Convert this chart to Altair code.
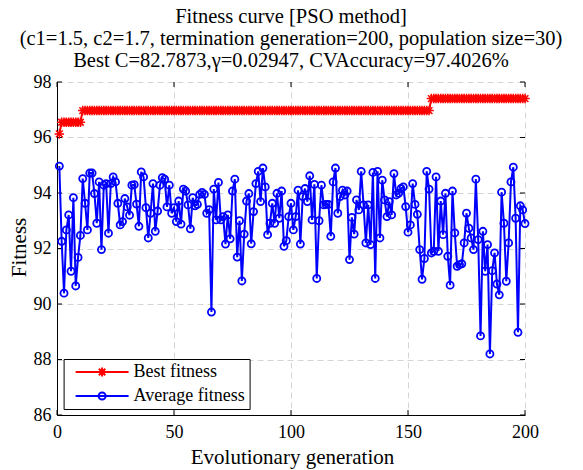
import altair as alt
import pandas as pd

# ---------------- data ----------------
generations = list(range(1, 201))

avg_fitness = [
    94.97, 92.26, 90.39, 92.67, 93.21, 91.18, 93.83, 90.65, 91.68, 92.47,
    94.52, 93.63, 92.67, 94.72, 94.72, 93.98, 92.91, 94.40, 91.96, 94.28,
    94.34, 92.55, 94.34, 94.58, 94.40, 93.63, 92.85, 92.97, 93.80, 93.50,
    93.20, 94.28, 94.30, 93.60, 92.80, 94.76, 94.58, 93.47, 92.38, 93.27,
    94.34, 92.62, 93.35, 94.28, 94.55, 94.50, 93.50, 94.28, 93.27, 93.47,
    92.97, 93.71, 92.88, 94.14, 94.07, 93.57, 92.71, 93.83, 93.54, 93.59,
    93.95, 94.02, 93.95, 93.27, 93.40, 89.71, 94.14, 93.03, 94.38, 93.03,
    93.15, 92.16, 93.21, 92.35, 94.07, 94.50, 91.69, 93.00, 90.83, 92.52,
    93.71, 93.98, 92.17, 93.33, 94.34, 94.78, 93.69, 94.90, 94.22, 92.50,
    92.91, 93.63, 92.91, 93.99, 93.09, 94.07, 92.08, 92.28, 93.15, 93.63,
    92.67, 93.15, 94.10, 92.16, 93.87, 94.16, 93.69, 94.62, 93.03, 94.31,
    90.92, 93.00, 94.28, 93.57, 93.59, 93.59, 92.44, 94.40, 94.90, 93.27,
    93.87, 94.10, 93.93, 94.07, 91.60, 93.12, 92.52, 93.75, 93.39, 94.78,
    93.57, 92.20, 93.57, 92.14, 94.74, 90.92, 94.78, 92.38, 94.46, 93.75,
    93.15, 93.69, 93.21, 94.70, 93.93, 93.99, 94.16, 94.22, 93.51, 92.59,
    92.85, 94.34, 93.59, 93.23, 91.96, 90.89, 91.64, 94.78, 94.14, 91.84,
    91.90, 94.58, 91.90, 93.71, 92.50, 93.99, 91.72, 90.68, 94.07, 92.56,
    91.36, 91.42, 91.45, 92.20, 93.27, 92.73, 92.38, 91.96, 94.50, 92.32,
    88.85, 92.62, 91.18, 92.14, 88.20, 91.20, 91.84, 90.72, 90.33, 94.03,
    92.91, 90.82, 92.20, 94.40, 94.93, 93.09, 88.98, 93.54, 93.39, 92.90,
]

# best fitness is a step curve: read levels and how many generations each lasts
best_levels = [96.13, 96.55, 96.97, 97.4026]
best_runs = [1, 9, 149, 41]

x_ticks = [0, 50, 100, 150, 200]
y_ticks = [86, 88, 90, 92, 94, 96, 98]

series_names = ["Best fitness", "Average fitness"]
series_colors = ["#ff0000", "#0000ff"]

title_lines = [
    "Fitness curve [PSO method]",
    "(c1=1.5, c2=1.7, termination generation=200, population size=30)",
    "Best C=82.7873,\u03b3=0.02947, CVAccuracy=97.4026%",
]

# ---------------- build tables ----------------
best_fitness = []
for lv, n in zip(best_levels, best_runs):
    best_fitness += [lv] * n

df_best = pd.DataFrame({"gen": generations, "fit": best_fitness})
df_avg = pd.DataFrame({"gen": generations, "fit": avg_fitness})
df_xt = pd.DataFrame({"t": x_ticks})
df_yt = pd.DataFrame({"t": y_ticks})
df_leg = pd.DataFrame({"series": series_names})

W, H = 468, 333
FONT = "Liberation Serif"

xs = alt.Scale(domain=[0, 200], nice=False, zero=False)
ys = alt.Scale(domain=[86, 98], nice=False, zero=False)

grid_kw = dict(grid=True, gridColor="#d4d4d4", gridDash=[6, 4], gridWidth=1,
               domain=True, domainColor="black", domainWidth=1, ticks=False,
               labelFont=FONT, labelFontSize=18, labelColor="black",
               labelFlush=False, labelOverlap=False,
               titleFont=FONT, titleFontSize=21, titleFontWeight="normal",
               titleColor="black", titleAlign="center", titleBaseline="middle")

x_axis = alt.Axis(values=x_ticks, title="Evolutionary generation",
                  labelPadding=8, titleX=235, titleY=42, **grid_kw)
y_axis = alt.Axis(values=y_ticks, title="Fitness", labelPadding=6,
                  titleX=-38, titleY=165, titleAngle=270, **grid_kw)

X = alt.X("gen:Q", scale=xs, axis=x_axis)
Y = alt.Y("fit:Q", scale=ys, axis=y_axis)

ASTERISK = "M0,-1L0,1M-1,0L1,0M-0.71,-0.71L0.71,0.71M-0.71,0.71L0.71,-0.71"

best_line = alt.Chart(df_best).mark_line(color="#ff0000", strokeWidth=2).encode(x=X, y=Y)
best_pts = alt.Chart(df_best).mark_point(shape=ASTERISK, filled=False, color="#ff0000",
                                         strokeWidth=1.5, size=90, opacity=1).encode(x=X, y=Y)
avg_line = alt.Chart(df_avg).mark_line(color="#0000ff", strokeWidth=2).encode(x=X, y=Y)
avg_pts = alt.Chart(df_avg).mark_point(shape="circle", filled=False, color="#0000ff",
                                       strokeWidth=1.8, size=50, opacity=1).encode(x=X, y=Y)

# inward tick marks on all four sides
XT = alt.X("t:Q", scale=xs, axis=x_axis)
YT = alt.Y("t:Q", scale=ys, axis=y_axis)
tick_bottom = alt.Chart(df_xt).mark_rule(color="black", strokeWidth=1).encode(
    x=XT, y=alt.value(H), y2=alt.value(H - 5))
tick_top = alt.Chart(df_xt).mark_rule(color="black", strokeWidth=1).encode(
    x=XT, y=alt.value(0), y2=alt.value(5))
tick_left = alt.Chart(df_yt).mark_rule(color="black", strokeWidth=1).encode(
    y=YT, x=alt.value(0), x2=alt.value(5))
tick_right = alt.Chart(df_yt).mark_rule(color="black", strokeWidth=1).encode(
    y=YT, x=alt.value(W), x2=alt.value(W - 5))

# legend symbols: line segment with the series marker in its middle
RED_SYM = "M-0.2,0L10.4,0M5.1,-0.9L5.1,0.9M4.2,0L6,0M4.46,-0.64L5.74,0.64M4.46,0.64L5.74,-0.64"
BLUE_SYM = "M-0.2,0L10.4,0M5.8,0A0.7,0.7,0,1,1,4.4,0A0.7,0.7,0,1,1,5.8,0"

leg = alt.Legend(title=None, orient="none", legendX=6.6, legendY=277,
                 symbolSize=100, symbolStrokeWidth=2, symbolOpacity=1,
                 labelFont=FONT, labelFontSize=18, labelColor="black",
                 labelOffset=48, padding=4, rowPadding=6,
                 strokeColor="black", fillColor="white")

legend_layer = alt.Chart(df_leg).mark_point(filled=False, opacity=0).encode(
    color=alt.Color("series:N", scale=alt.Scale(domain=series_names, range=series_colors), legend=leg),
    shape=alt.Shape("series:N", scale=alt.Scale(domain=series_names, range=[RED_SYM, BLUE_SYM]), legend=leg),
)

chart = alt.layer(
    tick_bottom, tick_top, tick_left, tick_right,
    best_line, best_pts, avg_line, avg_pts, legend_layer,
).properties(
    width=W, height=H,
    title=alt.TitleParams(text=title_lines, font=FONT, fontSize=20.5, fontWeight="normal",
                          color="black", anchor="middle", frame="group", offset=2,
                          lineHeight=22),
    autosize=alt.AutoSizeParams(type="none"),
    padding={"left": 49, "top": 74, "right": 50, "bottom": 55},
).configure_view(stroke="transparent")

chart.save("out.html", embed_options={"renderer": "svg", "actions": False})
